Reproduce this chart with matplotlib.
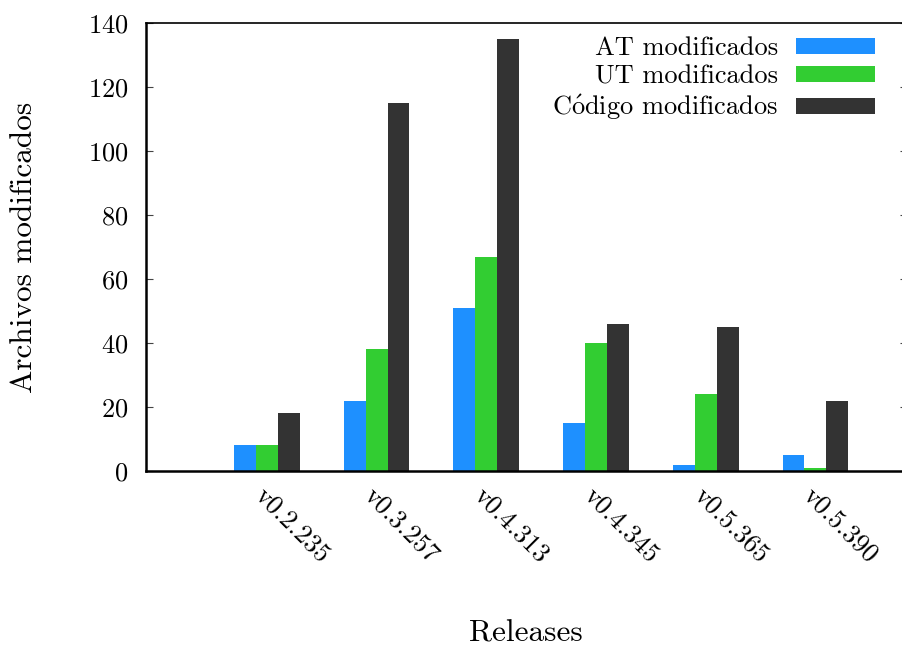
#!/usr/bin/env python

import numpy as np
import matplotlib.pyplot as plt


releases = ['v0.2.235', 'v0.3.257', 'v0.4.313', 'v0.4.345', 'v0.5.365', 'v0.5.390']
at_mod = [8, 22, 51, 15, 2, 5]
ut_mod = [8, 38, 67, 40, 24, 1]
code_mod = [18, 115, 135, 46, 45, 22]

series_labels = ['AT modificados', 'UT modificados',
                 r'C$\acute{\mathrm{o}}$digo modificados']
colors = ['#1e90ff', '#32cd32', '#333333']

plt.rcParams['font.family'] = ['cmr10', 'DejaVu Serif']
plt.rcParams['mathtext.fontset'] = 'cm'
plt.rcParams['axes.formatter.use_mathtext'] = True
fs = 19


def main():
    fig = plt.figure(figsize=(9.02, 6.5), dpi=100)
    ax = fig.add_axes([0.162, 0.2754, 0.843, 0.6892])

    x = np.arange(1, len(releases) + 1)
    w = 0.2
    for i, (vals, lab, c) in enumerate(zip([at_mod, ut_mod, code_mod],
                                           series_labels, colors)):
        ax.bar(x + (i - 1) * w, vals, width=w, color=c, label=lab,
               linewidth=0)

    ax.set_xlim(-0.1, 6.83)
    ax.set_ylim(0, 140)
    ax.set_yticks(np.arange(0, 141, 20))
    ax.set_xticks(x)
    ax.set_xticklabels(releases, rotation=-45, ha='left', va='top',
                       rotation_mode='anchor', fontsize=fs)
    ax.tick_params(axis='x', length=0, pad=9)
    ax.tick_params(axis='y', direction='in', length=5, right=True,
                   labelsize=fs, pad=13, color='#444444')
    for side in ['left', 'bottom']:
        ax.spines[side].set_linewidth(1.8)
    ax.spines['top'].set_linewidth(1.2)
    ax.spines['right'].set_visible(False)

    ax.set_ylabel('Archivos modificados', fontsize=22.5, labelpad=36)
    ax.set_xlabel('Releases', fontsize=22.5, labelpad=38)

    ax.legend(loc='upper right', frameon=False, markerfirst=False,
              fontsize=fs, handlelength=3.0, handleheight=0.58,
              labelspacing=0.17, handletextpad=0.7, borderpad=0,
              borderaxespad=0, bbox_to_anchor=(0.959, 0.97))

    plt.savefig('out.png', dpi=100)
    plt.close()


if __name__ == "__main__":
    main()
